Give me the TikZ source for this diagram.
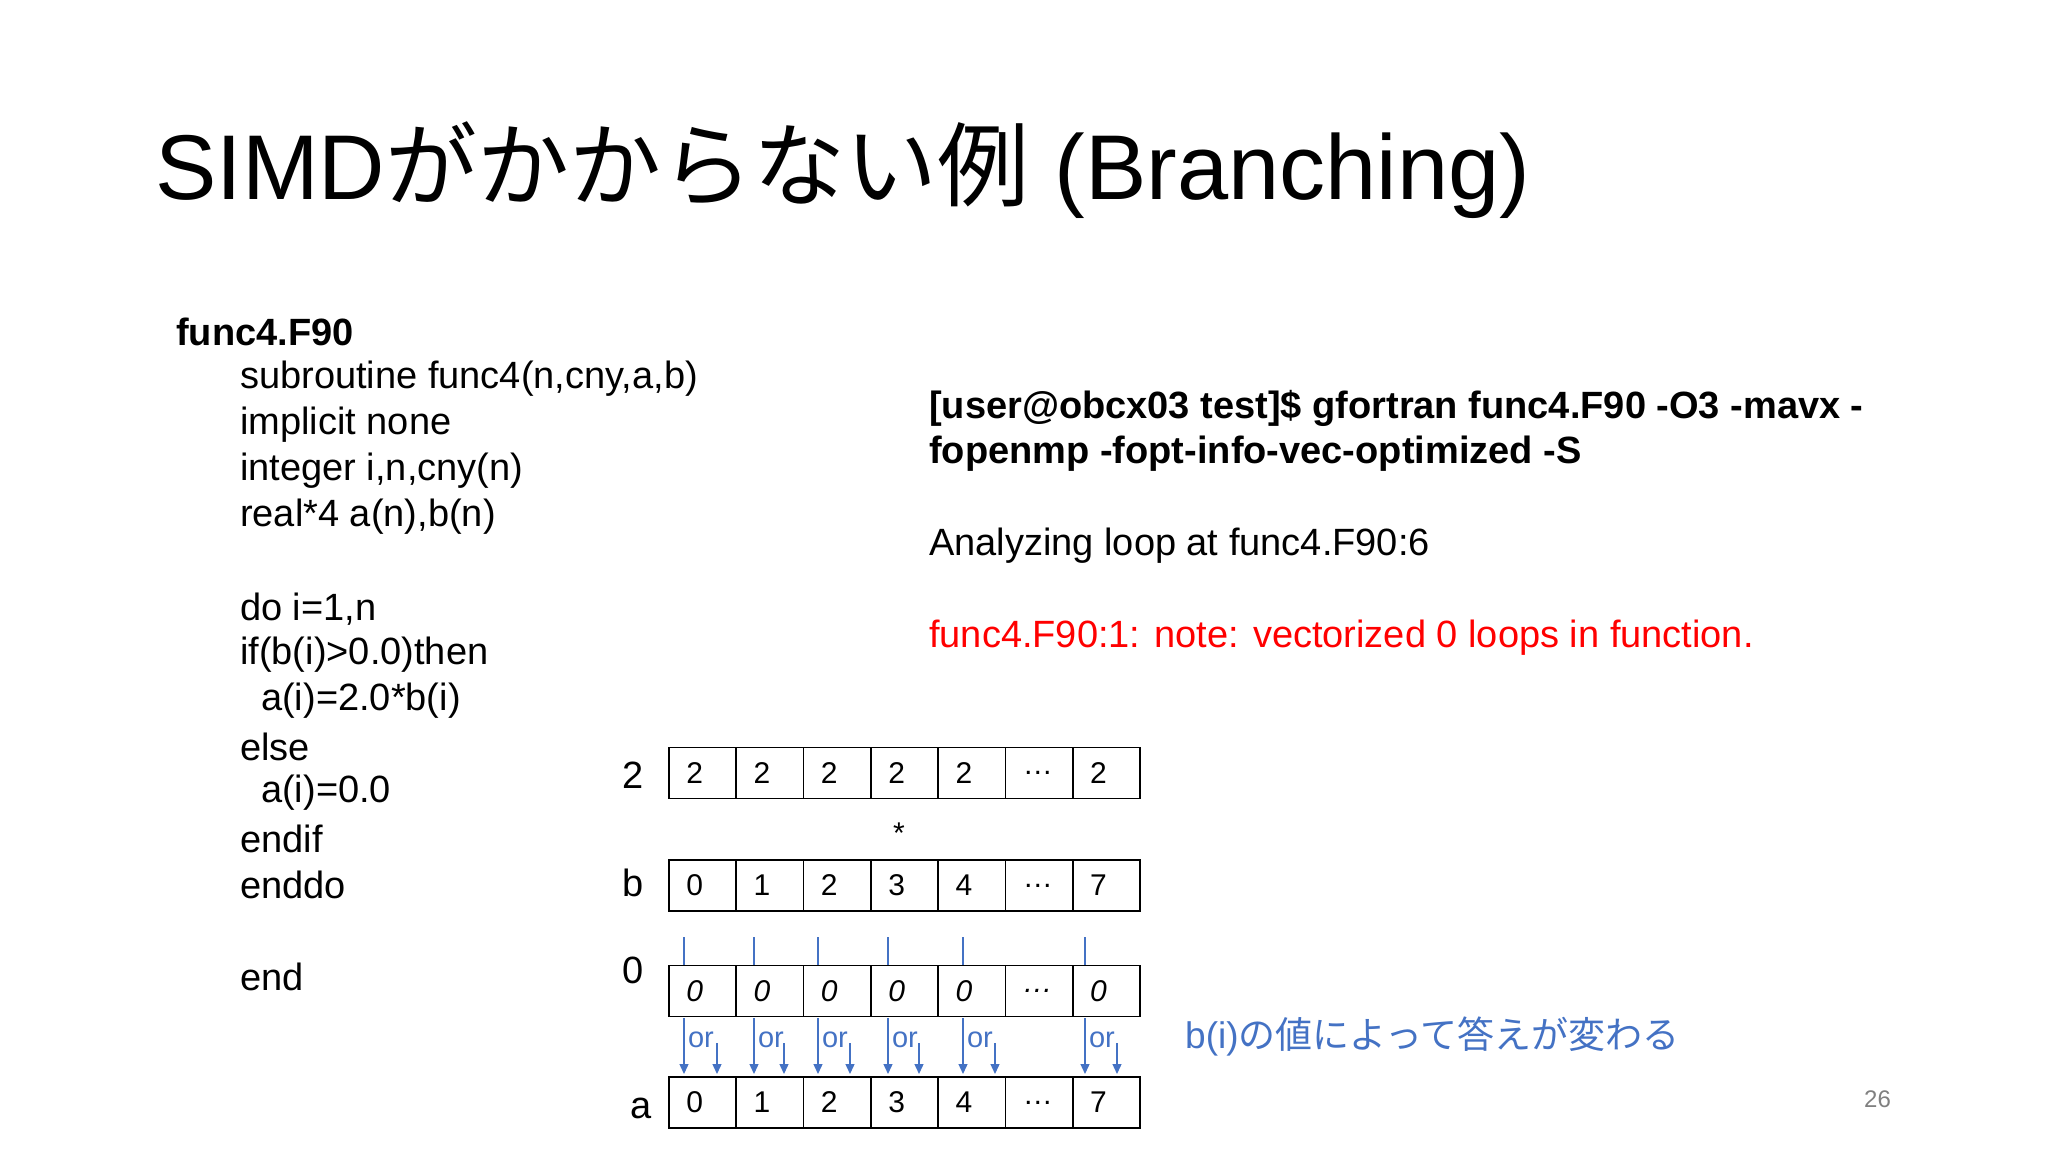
\documentclass[tikz,border=0pt]{standalone}
\usepackage{fontspec}
\setmainfont{Liberation Sans}
\newfontfamily\jp{Noto Sans CJK JP}
\usetikzlibrary{arrows.meta}
\definecolor{myblue}{HTML}{4472C4}
\definecolor{myred}{HTML}{FF0000}
\begin{document}
\begin{tikzpicture}[x=1pt,y=-1pt,
  cell/.style={draw,line width=1.6pt,minimum width=67.3pt,minimum height=51pt,inner sep=0pt},
  code/.style={anchor=west,inner sep=0pt,font=\fontsize{38}{42}\selectfont},
  lab/.style={inner sep=0pt,font=\fontsize{38}{40}\selectfont},
  bl/.style={myblue,line width=1.3pt},
  bla/.style={bl,-{Triangle[width=9pt,length=10pt]}}]
\useasboundingbox (0,0) rectangle (2048,1152);
\node[anchor=west,inner sep=0pt,font=\fontsize{92}{96}\selectfont] (title) at (155,170) {SIMD{\jp がかからない例} (Branching)};
\node[code,font=\bfseries\fontsize{38}{42}\selectfont] (fn) at (176,332) {func4.F90};
\node[code] (l1) at (240,379) {subroutine func4(n,cny,a,b)};
\node[code] (l2) at (240,425) {implicit none};
\node[code] (l3) at (240,471) {integer i,n,cny(n)};
\node[code] (l4) at (240,517) {real*4 a(n),b(n)};
\node[code] (l5) at (240,609) {do i=1,n};
\node[code] (l6) at (240,655) {if(b(i)>0.0)then};
\node[code] (l7) at (261,701) {a(i)=2.0*b(i)};
\node[code] (l8) at (240,747) {else};
\node[code] (l9) at (261,793) {a(i)=0.0};
\node[code] (l10) at (240,839) {endif};
\node[code] (l11) at (240,885) {enddo};
\node[code] (l12) at (240,977) {end};
\node[code,font=\bfseries\fontsize{38}{42}\selectfont] (r1) at (929,408) {[user@obcx03 test]\$ gfortran func4.F90 -O3 -mavx -};
\node[code,font=\bfseries\fontsize{38}{42}\selectfont] (r2) at (929,454) {fopenmp -fopt-info-vec-optimized -S};
\node[code] (r3) at (929,546) {Analyzing loop at func4.F90:6};
\node[code,myred] (r4) at (929,638) {func4.F90:1: note: vectorized 0 loops in function.};
\node[code,myblue,font=\fontsize{37}{40}\selectfont] (note) at (1185,1036) {b(i){\jp の値によって答えが変わる}};
\node[anchor=west,inner sep=0pt,gray,font=\fontsize{24}{26}\selectfont] (pg) at (1864,1099) {26};
% arrays
\foreach \r/\y/\st in {t/773/\upshape, b/885.5/\upshape, z/991/\itshape, a/1102.5/\upshape}{
  \foreach \i in {0,...,6}
    \node[cell] (\r\i) at (702.6+\i*67.3,\y) {};
}
\foreach \r/\st/\va/\vb/\vc/\vd/\ve/\vg in {t/\upshape/2/2/2/2/2/2, b/\upshape/0/1/2/3/4/7, z/\itshape/0/0/0/0/0/0, a/\upshape/0/1/2/3/4/7}{
  \foreach \i/\v in {0/\va,1/\vb,2/\vc,3/\vd,4/\ve,5/…,6/\vg}
    \node[anchor=west,inner sep=0pt,font=\st\fontsize{30}{32}\selectfont] (\r txt\i) at ([xshift=18pt]\r\i.west) {\v};
}
\node[lab] (L2) at (633,775) {2};
\node[lab] (Lb) at (633,883) {b};
\node[lab] (L0) at (633,970) {0};
\node[lab] (La) at (641,1108) {a};
\node[lab,font=\fontsize{30}{30}\selectfont] (star) at (899,833) {*};
% blue connectors
\foreach \i/\xa/\xb in {0/684/717,1/754/784,2/818/850,3/888/919,4/963/995,6/1085/1117}{
  \coordinate (u\i) at (\xa,937);
  \coordinate (v\i) at (\xa,1018);
  \coordinate (w\i) at (\xa,1074);
  \coordinate (s\i) at (\xb,1043);
  \coordinate (e\i) at (\xb,1074);
  \draw[bl] (u\i) -- (u\i |- z\i.north);
  \draw[bla] (v\i) -- (w\i);
  \draw[bla] (s\i) -- (e\i);
  \node[myblue,inner sep=0pt,font=\fontsize{29}{30}\selectfont] (or\i) at (\xa+17,1040) {or};
}
\end{tikzpicture}
\end{document}
